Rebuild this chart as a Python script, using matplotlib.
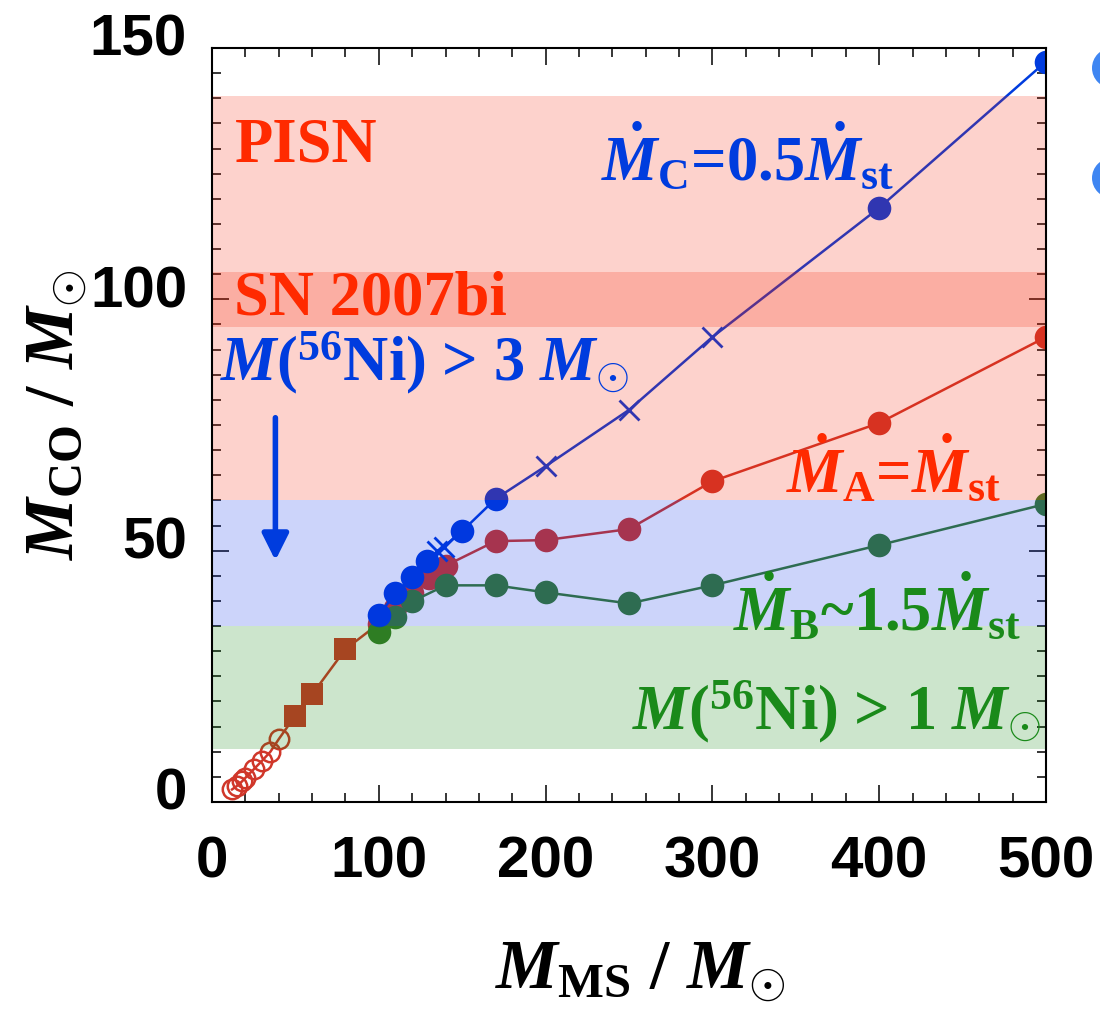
import matplotlib
matplotlib.use("Agg")
import matplotlib.pyplot as plt
import matplotlib.patches as patches
import matplotlib.transforms as mtransforms
from matplotlib.ticker import MultipleLocator

# --- data ---
# red: Mdot_A = Mdot_st  (open circles, filled squares, filled circles)
red_open_ms = [12, 15, 18, 20, 25, 30, 35, 40]
red_open_co = [2.5, 3.2, 4.1, 4.8, 6.5, 8.2, 10.0, 12.5]
red_sq_ms = [50, 60, 80]
red_sq_co = [17.2, 21.4, 30.4]
red_ms = [100, 110, 120, 130, 140, 170, 200, 250, 300, 400, 500]
red_co = [35.5, 38.5, 41.5, 44.5, 47.0, 51.9, 52.1, 54.3, 63.8, 75.4, 92.5]

# green: Mdot_B ~ 1.5 Mdot_st
green_ms = [100, 110, 120, 140, 170, 200, 250, 300, 400, 500]
green_co = [33.8, 36.9, 39.9, 43.1, 43.1, 41.7, 39.5, 43.1, 51.1, 59.3]

# blue: Mdot_C = 0.5 Mdot_st
blue_ms = [100, 110, 120, 129, 135, 139, 150, 170, 200, 250, 300, 400, 500]
blue_co = [37.2, 41.5, 44.7, 47.9, 49.9, 50.8, 53.9, 60.3, 66.8, 78.0, 92.5, 118.2, 147.3]
blue_cross_ms = [135, 139, 200, 250, 300]

# shaded ranges (y0, y1)
band_pisn = (60, 140.5)
band_sn2007bi = (94.5, 105.5)
band_ni3 = (35, 60)
band_ni1 = (10.5, 35)

c_red = "#D0372A"
c_green = "#3A7D2C"
c_blue = "#003CDE"

plt.rcParams['mathtext.fontset'] = 'custom'
plt.rcParams['mathtext.rm'] = 'Liberation Serif:bold'
plt.rcParams['mathtext.it'] = 'Liberation Serif:italic:bold'
plt.rcParams['mathtext.bf'] = 'Liberation Serif:bold'

fig = plt.figure(figsize=(11, 10.17), dpi=100)
ax = fig.add_axes([212 / 1100, 1 - 802 / 1017, 834 / 1100, 754 / 1017])

ms_big = 17

# red line and markers
ax.plot(red_open_ms + red_sq_ms + red_ms, red_open_co + red_sq_co + red_co,
        color=c_red, lw=1.8, zorder=2)
ax.plot(red_open_ms, red_open_co, ls='none', marker='o', ms=14, mfc='none',
        mec=c_red, mew=1.8, zorder=2)
ax.plot(red_sq_ms, red_sq_co, ls='none', marker='s', ms=16.5, color=c_red,
        mew=0, zorder=2)
ax.plot(red_ms, red_co, ls='none', marker='o', ms=ms_big, color=c_red, mew=0, zorder=2)

# green
ax.plot(green_ms, green_co, color=c_green, lw=1.8, marker='o', ms=ms_big, mew=0, zorder=2)

# blue
ax.plot(blue_ms, blue_co, color=c_blue, lw=1.8, zorder=2)
bx = [m for m in blue_ms if m not in blue_cross_ms]
by = [v for m, v in zip(blue_ms, blue_co) if m not in blue_cross_ms]
cx = [m for m in blue_ms if m in blue_cross_ms]
cy = [v for m, v in zip(blue_ms, blue_co) if m in blue_cross_ms]
ax.plot(bx, by, ls='none', marker='o', ms=ms_big, color=c_blue, mew=0, zorder=2)
ax.plot(cx, cy, ls='none', marker='x', ms=14, color=c_blue, mew=2, zorder=2)

# translucent bands on top of the data
ax.axhspan(*band_pisn, color=(0.96, 0.12, 0.0), alpha=0.2, lw=0, zorder=3)
ax.axhspan(*band_sn2007bi, color=(0.96, 0.12, 0.0), alpha=0.2, lw=0, zorder=3)
ax.axhspan(*band_ni3, color=(0.0, 0.16, 0.9), alpha=0.2, lw=0, zorder=3)
ax.axhspan(*band_ni1, color=(0.0, 0.5, 0.0), alpha=0.2, lw=0, zorder=3)

# annotations
ser = dict(family='Liberation Serif', weight='bold', zorder=5)
ax.text(14, 130.5, "PISN", color="#FF2A00", fontsize=45, va='center', ha='left', **ser)
ax.text(13, 100, "SN 2007bi", color="#FF2A00", fontsize=45, va='center', ha='left', **ser)
ax.text(5, 87.5, r"$M$($^{56}$Ni) > 3 $M_{\odot}$", color=c_blue, fontsize=45,
        va='center', ha='left', **ser)
ax.text(321, 128, r"$\dot{M}_{\mathrm{C}}$=0.5$\dot{M}_{\mathrm{st}}$", color=c_blue,
        fontsize=45, va='center', ha='center', **ser)
ax.text(473, 66, r"$\dot{M}_{\mathrm{A}}$=$\dot{M}_{\mathrm{st}}$", color="#FF2A00",
        fontsize=45, va='center', ha='right', **ser)
ax.text(485, 38.5, r"$\dot{M}_{\mathrm{B}}$~1.5$\dot{M}_{\mathrm{st}}$", color="#1A8A1A",
        fontsize=45, va='center', ha='right', **ser)
ax.text(497, 18, r"$M$($^{56}$Ni) > 1 $M_{\odot}$", color="#1A8A1A", fontsize=45,
        va='center', ha='right', **ser)

ax.annotate('', xy=(38, 47.5), xytext=(38, 77),
            arrowprops=dict(arrowstyle='-|>', lw=4, color=c_blue, mutation_scale=40),
            zorder=5)

# axes
ax.set_xlim(0, 500)
ax.set_ylim(0, 150)
ax.set_axisbelow(True)
for s in ax.spines.values():
    s.set_linewidth(1.5)
    s.set_zorder(6)
ax.xaxis.set_major_locator(MultipleLocator(100))
ax.xaxis.set_minor_locator(MultipleLocator(20))
ax.yaxis.set_major_locator(MultipleLocator(50))
ax.yaxis.set_minor_locator(MultipleLocator(5))
ax.tick_params(which='both', direction='in', top=True, right=True, width=1.1)
ax.tick_params(which='major', length=12)
ax.tick_params(which='minor', length=6.5)
ax.tick_params(axis='x', which='major', pad=24)
ax.tick_params(axis='y', which='major', pad=18)
for lab in ax.get_xticklabels() + ax.get_yticklabels():
    lab.set_fontfamily('Liberation Sans')
    lab.set_fontweight('bold')
    lab.set_fontsize(42)
shift = mtransforms.ScaledTranslation(0, 13 / 100, fig.dpi_scale_trans)
for lab in ax.get_yticklabels():
    lab.set_transform(lab.get_transform() + shift)

ax.set_xlabel(r"$M_{\mathrm{MS}}$ / $M_{\odot}$", fontsize=50, family='Liberation Serif',
              weight='bold')
ax.set_ylabel(r"$M_{\mathrm{CO}}$ / $M_{\odot}$", fontsize=50, family='Liberation Serif',
              weight='bold')
ax.xaxis.set_label_coords(0.513, -0.183)
ax.yaxis.set_label_coords(-0.148, 0.513)

# slide bullets cut off at the right edge
for yb in [68, 178]:
    fig.add_artist(patches.Ellipse((1112 / 1100, 1 - yb / 1017), 40 / 1100, 40 / 1017,
                                   transform=fig.transFigure, color="#3F86F2", lw=0))

fig.savefig("out.png", dpi=100)
